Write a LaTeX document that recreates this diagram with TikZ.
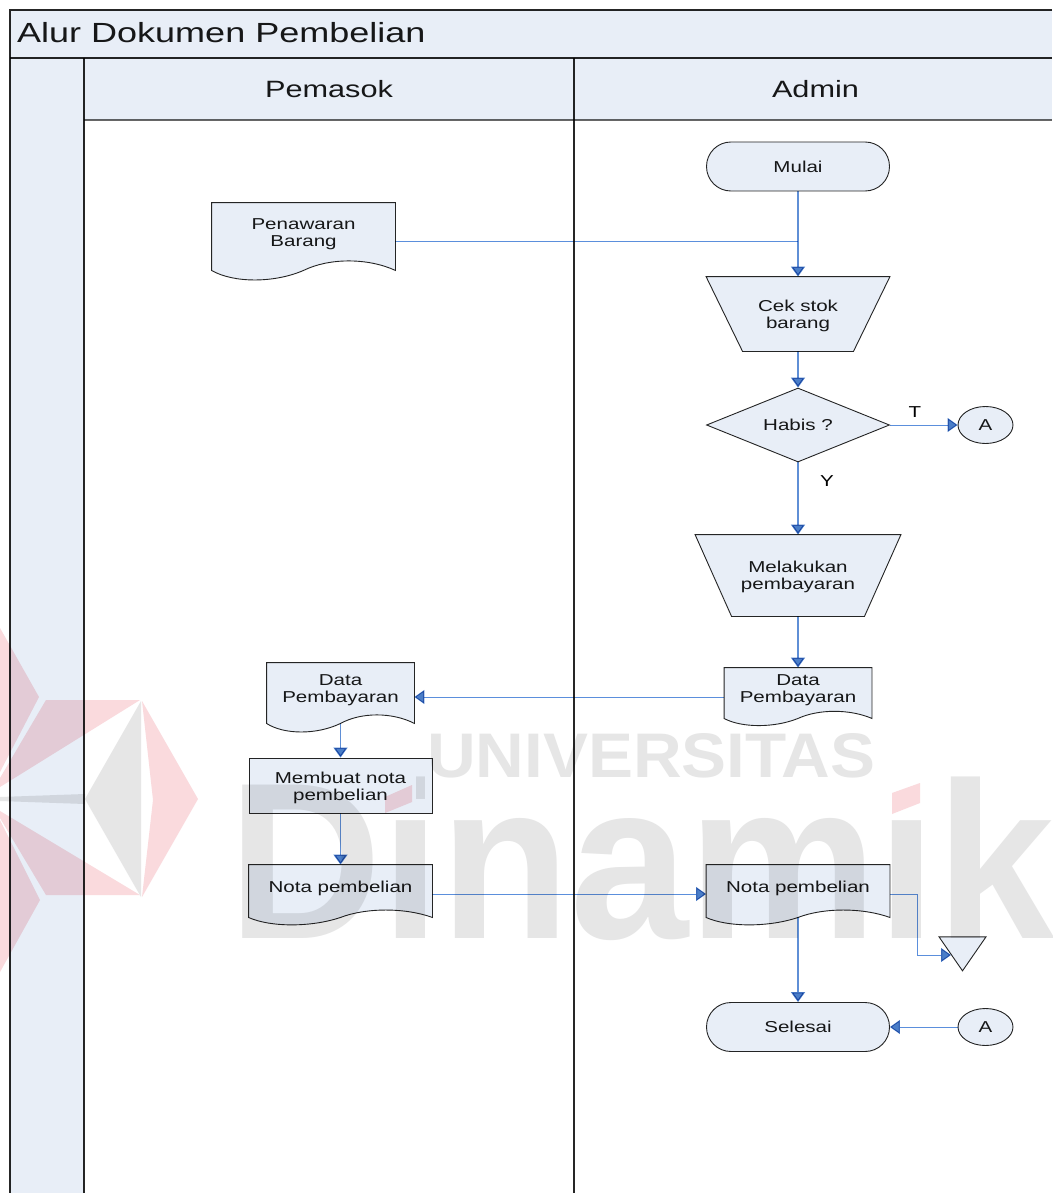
\documentclass[tikz,border=0pt]{standalone}
\usepackage{fontspec}
\setmainfont[FakeStretch=1.3]{Liberation Sans}
\newfontfamily\wmbig[FakeStretch=0.953]{Liberation Sans}
\newfontfamily\wmsmall[FakeStretch=1.07]{Liberation Sans}
\usetikzlibrary{shapes.geometric,arrows.meta}
\newdimen\docL \newdimen\docR \newdimen\docT \newdimen\docB \newdimen\docW \newdimen\docA
\makeatletter
\pgfdeclareshape{docshape}{
  \inheritsavedanchors[from=rectangle]
  \inheritanchorborder[from=rectangle]
  \inheritanchor[from=rectangle]{center}
  \inheritanchor[from=rectangle]{north}
  \inheritanchor[from=rectangle]{south}
  \inheritanchor[from=rectangle]{east}
  \inheritanchor[from=rectangle]{west}
  \anchor{text}{\pgfqpoint{0pt}{2.5pt}}
  \backgroundpath{
    \southwest \docL=\pgf@x \docB=\pgf@y
    \northeast \docR=\pgf@x \docT=\pgf@y
    \docW=\docR \advance\docW by-\docL
    \docA=\docT \advance\docA by-\docB
    \docA=.187\docA
    \pgfpathmoveto{\pgfqpoint{\docL}{\docT}}
    \pgfpathlineto{\pgfqpoint{\docR}{\docT}}
    \pgfpathlineto{\pgfqpoint{\docR}{\docB}}
    \pgfpathcurveto{\pgfqpoint{\dimexpr\docR-.15\docW\relax}{\dimexpr\docB+\docA\relax}}
                   {\pgfqpoint{\dimexpr\docR-.36\docW\relax}{\dimexpr\docB+\docA\relax}}
                   {\pgfqpoint{\dimexpr\docL+.5\docW\relax}{\docB}}
    \pgfpathcurveto{\pgfqpoint{\dimexpr\docL+.34\docW\relax}{\dimexpr\docB-\docA\relax}}
                   {\pgfqpoint{\dimexpr\docL+.12\docW\relax}{\dimexpr\docB-\docA\relax}}
                   {\pgfqpoint{\docL}{\docB}}
    \pgfpathclose
  }
}
\pgfdeclareshape{manualshape}{
  \inheritsavedanchors[from=rectangle]
  \inheritanchorborder[from=rectangle]
  \inheritanchor[from=rectangle]{center}
  \inheritanchor[from=rectangle]{north}
  \inheritanchor[from=rectangle]{south}
  \inheritanchor[from=rectangle]{east}
  \inheritanchor[from=rectangle]{west}
  \anchor{text}{\pgfqpoint{0pt}{-1.5pt}}
  \backgroundpath{
    \southwest \docL=\pgf@x \docB=\pgf@y
    \northeast \docR=\pgf@x \docT=\pgf@y
    \pgfpathmoveto{\pgfqpoint{\docL}{\docT}}
    \pgfpathlineto{\pgfqpoint{\docR}{\docT}}
    \pgfpathlineto{\pgfqpoint{\dimexpr\docR-36.5pt\relax}{\docB}}
    \pgfpathlineto{\pgfqpoint{\dimexpr\docL+36.5pt\relax}{\docB}}
    \pgfpathclose
  }
}
\makeatother
\definecolor{lanefill}{HTML}{E8EEF7}
\definecolor{flowblue}{HTML}{5F8FD6}
\definecolor{flowthin}{HTML}{5B8FDC}
\definecolor{flowhead}{HTML}{4A7EC8}
\definecolor{outline}{HTML}{262626}
\definecolor{wmgray}{HTML}{E6E6E6}
\definecolor{wmred}{HTML}{FADADD}
\newcommand{\firstline}{\rule{0pt}{15.5pt}}
\tikzset{
  x=1pt,y=-1pt,
  base/.style={draw=outline,fill=lanefill,line width=.9pt,inner sep=0pt,align=center,
    font=\fontsize{15.8}{17}\selectfont,text=black!90},
  terminal/.style={base,rectangle,rounded corners=24.4pt,minimum width=183pt,minimum height=49pt},
  process/.style={base,rectangle,minimum width=183pt,minimum height=55pt},
  manual/.style={base,shape=manualshape},
  decision/.style={base,diamond,aspect=2.47,minimum width=183pt,minimum height=74pt},
  connector/.style={base,ellipse,minimum width=55pt,minimum height=37pt},
  document/.style={base,shape=docshape},
  mergetri/.style={draw=outline,fill=lanefill,line width=.9pt,inner sep=0pt,isosceles triangle,
    isosceles triangle stretches,shape border rotate=-90,minimum width=47pt,minimum height=34pt},
  flow/.style={draw=flowthin,line width=1pt,-{Triangle[length=10pt,width=14pt,fill=flowhead,color=flowhead]}},
  flowv/.style={flow,draw=flowblue,line width=1.4pt},
  flowplain/.style={draw=flowthin,line width=1pt},
  frame/.style={draw=black!85,line width=1.5pt},
  headtext/.style={inner sep=0pt,font=\fontsize{23.6}{26}\selectfont,text=black!90},
  edgetext/.style={inner sep=0pt,font=\fontsize{15.8}{17}\selectfont,text=black},
}
\begin{document}
\begin{tikzpicture}
\useasboundingbox (0,0) rectangle (1052,1193);
\fill[white] (0,0) rectangle (1052,1193);
% watermark
\begin{scope}
\clip (0,0) rectangle (1052,1193);
\fill[wmred] (142,701) -- (198,799) -- (142,897) -- (153,800) -- cycle;
\fill[wmred] (46,700) -- (140,700) -- (0,787) -- (0,778) -- cycle;
\fill[wmred] (46,895) -- (140,895) -- (0,811) -- (0,818) -- cycle;
\fill[wmred] (0,628) -- (39,697) -- (0,772) -- cycle;
\fill[wmred] (0,820) -- (40,900) -- (0,972) -- cycle;
\fill[wmgray] (85,799) -- (141,701) -- (141,897) -- cycle;
\fill[wmgray] (0,797) -- (85,794) -- (85,804) -- (0,801) -- cycle;
\node[anchor=base west,inner sep=0pt,text=wmgray,font={\fontsize{223}{223}\wmbig\bfseries}] (wmname) at (228,938) {Dinamik};
\node[anchor=base west,inner sep=0pt,text=wmgray,font={\fontsize{63}{63}\wmsmall\bfseries}] (wmuni) at (427,777) {UNIVERSITAS};
\fill[white] (380,775) rectangle (416,815);
\fill[white] (888,775) rectangle (925,817);
\fill[wmred] (385,813) -- (385,797) -- (412,785) -- (412,802) -- cycle;
\fill[wmred] (892,814) -- (892,793) -- (920,783) -- (920,803) -- cycle;
\end{scope}
\begin{scope}[blend mode=multiply]
% swimlane bands
\fill[lanefill] (10,10) rectangle (1052,58);
\fill[lanefill] (10,58) rectangle (84,1193);
\fill[lanefill] (84,58) rectangle (1052,120);
\draw[frame] (1052,10) -- (10,10) -- (10,1193);
\draw[frame] (10,58) -- (1052,58);
\draw[frame] (84,58) -- (84,1193);
\draw[frame] (574,58) -- (574,1193);
\draw[frame,draw=black!60] (84,120) -- (1052,120);
\node[headtext,anchor=west,font=\fontsize{27.7}{30}\selectfont] (title) at (17,33) {Alur Dokumen Pembelian};
\node[headtext] (lanea) at (329,89) {Pemasok};
\node[headtext] (laneb) at (815.5,89) {Admin};
% nodes
\node[terminal] (mulai) at (798,166.5) {Mulai};
\node[document,minimum width=183pt,minimum height=67pt] (penawaran) at (303.5,236.5) {Penawaran\\[-.5pt]Barang};
\node[manual,minimum width=183pt,minimum height=74pt] (cek) at (798,314) {Cek stok\\barang};
\node[decision] (habis) at (798,425) {Habis ?};
\node[connector] (aout) at (985.5,425) {A};
\node[manual,minimum width=205pt,minimum height=81pt] (bayar) at (798,575.5) {Melakukan\\pembayaran};
\node[document,minimum width=147pt,minimum height=50pt] (datar) at (798,693) {Data\\Pembayaran};
\node[document,minimum width=147pt,minimum height=60pt] (datal) at (340.5,693) {Data\\Pembayaran};
\node[process] (membuat) at (340.5,785.5) {\firstline Membuat nota\\pembelian};
\node[document,minimum width=183pt,minimum height=52pt] (notal) at (340.5,891) {Nota pembelian};
\node[document,minimum width=183pt,minimum height=52pt] (notar) at (798,891) {Nota pembelian};
\node[mergetri,anchor=apex] (merge) at (962.5,972) {};
\node[terminal] (selesai) at (798,1027) {Selesai};
\node[connector] (ain) at (985.5,1027) {A};
% connector points
\path ([yshift=-5pt]penawaran.east) coordinate (pout);
\coordinate (pjoin) at (pout -| mulai.south);
\coordinate (mergein) at (951,955);
\path ([yshift=-3pt]notar.east) coordinate (nout);
\coordinate (nbend) at (917,894);
\coordinate (nbend2) at (917,955);
% connectors
\draw[flowv] (mulai.south) -- (cek.north);
\draw[flowplain] (pout) -- (pjoin);
\draw[flowv] (cek.south) -- (habis.north);
\draw[flow] (habis.east) -- (aout.west);
\draw[flowv] (habis.south) -- (bayar.north);
\draw[flowv] (bayar.south) -- (datar.north);
\draw[flow] ([yshift=-4pt]datar.west) -- ([yshift=-4pt]datal.east);
\draw[flowv] (datal.south) -- (membuat.north);
\draw[flowv] (membuat.south) -- (notal.north);
\draw[flow] ([yshift=-3pt]notal.east) -- ([yshift=-3pt]notar.west);
\draw[flow] (nout) -- (nbend) -- (nbend2) -- (mergein);
\draw[flowv] (notar.south) -- (selesai.north);
\draw[flow] (ain.west) -- (selesai.east);
\node[edgetext] (tlabel) at (915,412) {T};
\node[edgetext] (ylabel) at (827,481) {Y};
\end{scope}
\end{tikzpicture}
\end{document}
